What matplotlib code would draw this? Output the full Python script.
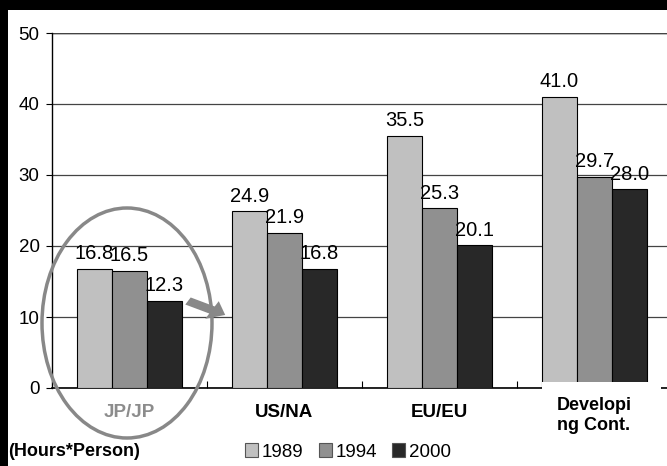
import numpy as np
import matplotlib
matplotlib.use("Agg")
import matplotlib.pyplot as plt
import matplotlib.patches as mpatches
import matplotlib.transforms as mtransforms

plt.rcParams['font.family'] = ['Liberation Sans', 'DejaVu Sans']

# data
regions = ['JP/JP', 'US/NA', 'EU/EU', 'Developi\nng Cont.']
years = ['1989', '1994', '2000']
v1989 = [16.8, 24.9, 35.5, 41.0]
v1994 = [16.5, 21.9, 25.3, 29.7]
v2000 = [12.3, 16.8, 20.1, 28.0]
colors = ['#c0c0c0', '#909090', '#282828']
label_colors = ['#8c8c8c', 'black', 'black', 'black']

fig = plt.figure(figsize=(6.67, 4.66), dpi=100)
fig.patch.set_facecolor('white')

# black frame on top and left
fig.patches.append(mpatches.Rectangle((0, 1 - 10 / 466), 1, 10 / 466, transform=fig.transFigure,
                                      facecolor='black', edgecolor='none', zorder=0))
fig.patches.append(mpatches.Rectangle((0, 0), 8 / 667, 1, transform=fig.transFigure,
                                      facecolor='black', edgecolor='none', zorder=0))

ax = fig.add_axes([52 / 667, 1 - 388 / 466, 620 / 667, 355 / 466])
x = np.arange(len(regions))
w = 0.226
for k, (vals, c) in enumerate(zip([v1989, v1994, v2000], colors)):
    pos = x + (k - 1) * w
    ax.bar(pos, vals, w, color=c, edgecolor='black', linewidth=0.8, zorder=3, label=years[k])
    for p, v in zip(pos, vals):
        ax.text(p, v + 0.8, f'{v:.1f}', ha='center', va='bottom', fontsize=14.5, zorder=4)

ax.set_xlim(-0.5, 3.5)
ax.set_ylim(0, 50)
ax.set_yticks([0, 10, 20, 30, 40, 50])
ax.tick_params(axis='y', labelsize=13.5, length=4, direction='out', pad=5)
ax.set_xticks([0.5, 1.5, 2.5])
ax.set_xticklabels([])
ax.tick_params(axis='x', length=5, direction='in')
ax.grid(axis='y', color='#444444', linewidth=0.9, zorder=0)
for s in ['top', 'right']:
    ax.spines[s].set_visible(False)
ax.spines['left'].set_linewidth(1.0)
ax.spines['bottom'].set_linewidth(1.2)
ax.axhline(50, color='black', linewidth=1.0, zorder=1)

trans = mtransforms.blended_transform_factory(ax.transData, ax.transAxes)
# white patch behind the last category label
ax.add_patch(mpatches.Rectangle((3 - 0.34, -0.3), 0.77, 0.317, transform=trans,
                                facecolor='white', edgecolor='none', zorder=5, clip_on=False))
for i, (name, lc) in enumerate(zip(regions, label_colors)):
    if '\n' in name:
        ax.text(i, -0.025, name, transform=trans, ha='center', va='top', fontsize=13,
                fontweight='bold', color=lc, multialignment='left', linespacing=1.25, zorder=6)
    else:
        ax.text(i, -0.07, name, transform=trans, ha='center', va='center', fontsize=13.5,
                fontweight='bold', color=lc, zorder=6)

# highlight circle and arrow
fig.patches.append(mpatches.Ellipse((127 / 667, 1 - 323 / 466), 170 / 667, 230 / 466,
                                    transform=fig.transFigure, facecolor='none',
                                    edgecolor='#888888', linewidth=2.5, zorder=10))
fig.patches.append(mpatches.FancyArrow(188 / 667, 1 - 301 / 466, 24 / 667, -9 / 466,
                                       width=8 / 466, head_width=20 / 466, head_length=15 / 667,
                                       length_includes_head=False, transform=fig.transFigure,
                                       facecolor='#888888', edgecolor='none', zorder=10))

fig.text(8 / 667, 1 - 452 / 466, '(Hours*Person)', fontsize=13, fontweight='bold',
         ha='left', va='center')

handles = [mpatches.Patch(facecolor=c, edgecolor='#555555', linewidth=0.8) for c in colors]
fig.legend(handles, years, loc='center', bbox_to_anchor=(348 / 667, 1 - 452 / 466), ncol=3,
           frameon=False, fontsize=13.5, handlelength=0.7, handleheight=0.7,
           handletextpad=0.2, columnspacing=0.8)

fig.savefig('out.png', dpi=100)
